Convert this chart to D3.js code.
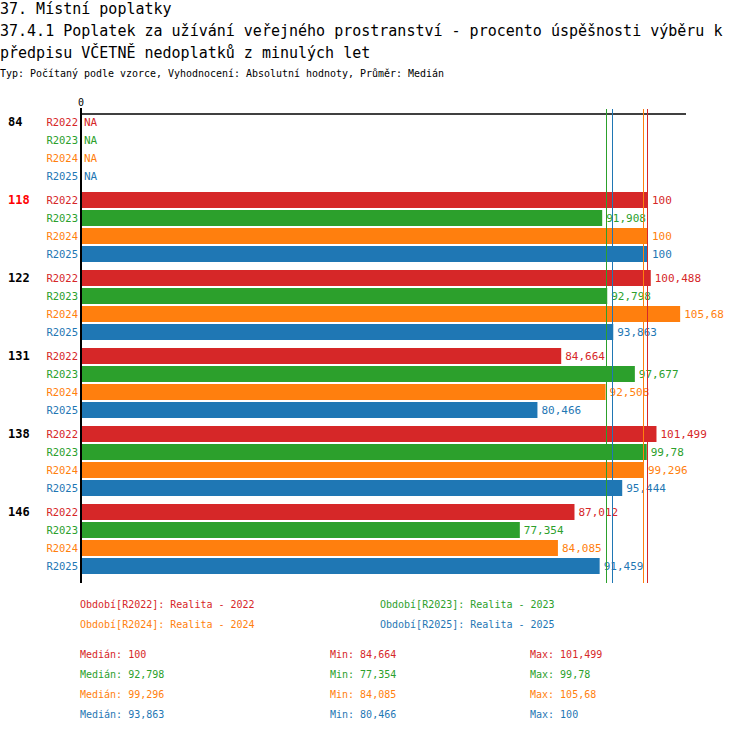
<!DOCTYPE html>
<html>
<head>
<meta charset="utf-8">
<script src="https://cdn.jsdelivr.net/npm/d3@7"></script>
<style>
  body { margin: 0; background: #fff; }
  text { font-family: "DejaVu Sans Mono", monospace; }
</style>
</head>
<body>
<svg id="chart" width="750" height="732"></svg>
<script>
// data
var groups = ["84", "118", "122", "131", "138", "146"];
var series = ["R2022", "R2023", "R2024", "R2025"];
var colors = ["#d62728", "#2ca02c", "#ff7f0e", "#1f77b4"];
var values = {
    "84":  [null, null, null, null],
    "118": [100, 91.908, 100, 100],
    "122": [100.488, 92.798, 105.68, 93.863],
    "131": [84.664, 97.677, 92.508, 80.466],
    "138": [101.499, 99.78, 99.296, 95.444],
    "146": [87.012, 77.354, 84.085, 91.459]
};
var highlight = "118";
var medians = [100, 92.798, 99.296, 93.863];
var mins = [84.664, 77.354, 84.085, 80.466];
var maxs = [101.499, 99.78, 105.68, 100];
var legendText = ["Období[R2022]: Realita - 2022", "Období[R2023]: Realita - 2023",
                  "Období[R2024]: Realita - 2024", "Období[R2025]: Realita - 2025"];
var titles = ["37. Místní poplatky",
              "37.4.1 Poplatek za užívání veřejného prostranství - procento úspěšnosti výběru k",
              "předpisu VČETNĚ nedoplatků z minulých let"];
var subtitle = "Typ: Počítaný podle vzorce, Vyhodnocení: Absolutní hodnoty, Průměr: Medián";

var svg = d3.select("#chart");
var fmt = function(v) { return String(v).replace(".", ","); };

// titles
svg.selectAll("text.title").data(titles).enter().append("text")
    .attr("class", "title")
    .attr("x", 0).attr("y", 14 + 0).attr("y", (d, i) => 14 + i * 22)
    .attr("font-size", 15)
    .attr("fill", "#000")
    .text(d => d);
svg.append("text")
    .attr("x", 0).attr("y", 77)
    .attr("font-size", 10)
    .attr("textLength", 444).attr("lengthAdjust", "spacingAndGlyphs")
    .text(subtitle);

// scales
var x = d3.scaleLinear().domain([0, 100]).range([82, 648]);
var groupStep = 78, rowStep = 18, barH = 16, top0 = 114;
var y = function(gi, si) { return top0 + gi * groupStep + si * rowStep; };

// top line and zero axis
svg.append("line").attr("x1", 81).attr("x2", 686).attr("y1", 114).attr("y2", 114)
    .attr("stroke", "#000").attr("stroke-width", 1.5);
svg.append("text").attr("x", 81).attr("y", 106).attr("font-size", 10)
    .attr("text-anchor", "middle").text("0");

var rows = [];
groups.forEach(function(g, gi) {
    series.forEach(function(s, si) {
        rows.push({g: g, gi: gi, s: s, si: si, v: values[g][si]});
    });
});

// bars
svg.selectAll("rect.bar").data(rows.filter(d => d.v != null)).enter().append("rect")
    .attr("class", "bar")
    .attr("x", x(0))
    .attr("y", d => y(d.gi, d.si))
    .attr("width", d => x(d.v) - x(0))
    .attr("height", barH)
    .attr("fill", d => colors[d.si]);

// value labels
svg.selectAll("text.val").data(rows).enter().append("text")
    .attr("class", "val")
    .attr("x", d => d.v == null ? x(0) + 2 : x(d.v) + 4)
    .attr("y", d => y(d.gi, d.si) + 12)
    .attr("font-size", 11)
    .attr("fill", d => colors[d.si])
    .text(d => d.v == null ? "NA" : fmt(d.v));

// series labels
svg.selectAll("text.ser").data(rows).enter().append("text")
    .attr("class", "ser")
    .attr("x", 78)
    .attr("y", d => y(d.gi, d.si) + 12)
    .attr("font-size", 10.5)
    .attr("text-anchor", "end")
    .attr("fill", d => colors[d.si])
    .text(d => d.s);

// group labels
svg.selectAll("text.grp").data(groups).enter().append("text")
    .attr("class", "grp")
    .attr("x", 8)
    .attr("y", (d, i) => y(i, 0) + 12)
    .attr("font-size", 12)
    .attr("font-weight", "bold")
    .attr("fill", d => d == highlight ? "#ff0000" : "#000")
    .text(d => d);

// zero axis drawn over bars
svg.append("line").attr("x1", 81).attr("x2", 81).attr("y1", 108).attr("y2", 583)
    .attr("stroke", "#000").attr("stroke-width", 2);

// median lines
svg.selectAll("line.med").data(medians).enter().append("line")
    .attr("class", "med")
    .attr("x1", d => Math.round(x(d)) - 0.5).attr("x2", d => Math.round(x(d)) - 0.5)
    .attr("y1", 109).attr("y2", 583)
    .attr("stroke", (d, i) => colors[i]).attr("stroke-width", 1);

// legend
svg.selectAll("text.leg").data(legendText).enter().append("text")
    .attr("class", "leg")
    .attr("x", (d, i) => i % 2 == 0 ? 80 : 380)
    .attr("y", (d, i) => 608 + Math.floor(i / 2) * 20)
    .attr("font-size", 10)
    .attr("fill", (d, i) => colors[i])
    .text(d => d);

// stats
var stats = [];
series.forEach(function(s, i) {
    stats.push({i: i, col: 80, t: "Medián: " + fmt(medians[i])});
    stats.push({i: i, col: 330, t: "Min: " + fmt(mins[i])});
    stats.push({i: i, col: 530, t: "Max: " + fmt(maxs[i])});
});
svg.selectAll("text.stat").data(stats).enter().append("text")
    .attr("class", "stat")
    .attr("x", d => d.col)
    .attr("y", d => 658 + d.i * 20)
    .attr("font-size", 10)
    .attr("fill", d => colors[d.i])
    .text(d => d.t);
</script>
</body>
</html>
